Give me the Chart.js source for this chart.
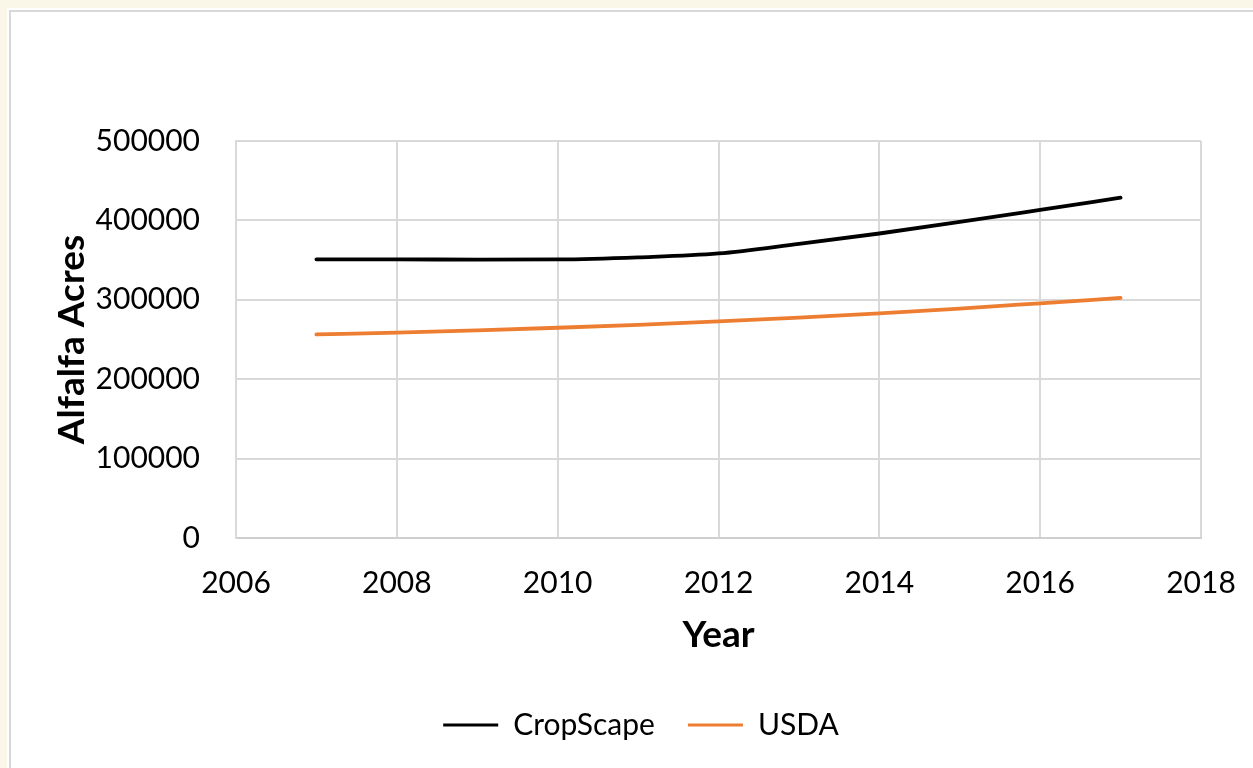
<!DOCTYPE html>
<html>
<head>
<meta charset="utf-8">
<script src="https://cdn.jsdelivr.net/npm/chart.js@4.4.1/dist/chart.umd.min.js"></script>
<style>
html,body{margin:0;padding:0;background:#fbf7e8;overflow:hidden}
canvas{display:block}
</style>
</head>
<body>
<canvas id="c" width="1253" height="768" style="width:1253px;height:768px"></canvas>
<script>
// ---- data ----
const years = [2007, 2008, 2009, 2010, 2011, 2012, 2013, 2014, 2015, 2016, 2017];
const cropScape = [351000, 351000, 350500, 350800, 353500, 358400, 370500, 383500, 398000, 413200, 428600];
const usda = [256500, 258600, 261500, 264800, 268500, 272800, 277500, 283000, 289000, 295600, 302300];
const seriesNames = ['CropScape', 'USDA'];
const xTickValues = [2006, 2008, 2010, 2012, 2014, 2016, 2018];
const yTickValues = [0, 100000, 200000, 300000, 400000, 500000];
const xTitle = 'Year';
const yTitle = 'Alfalfa Acres';

const FONT = 'Lato, "Open Sans", "Noto Sans", sans-serif';
const PAD_LEFT = 81;

const bgPlugin = {
  id: 'bg',
  beforeDraw(chart) {
    const ctx = chart.ctx;
    ctx.save();
    ctx.fillStyle = '#fbf7e8';
    ctx.fillRect(0, 0, chart.width, chart.height);
    ctx.fillStyle = '#ffffff';
    ctx.fillRect(7, 8, chart.width, chart.height);
    ctx.fillStyle = '#d8d8d8';
    ctx.fillRect(9, 10, chart.width, 2);
    ctx.fillRect(9, 10, 2, chart.height);
    ctx.restore();
  }
};

new Chart(document.getElementById('c'), {
  type: 'line',
  data: {
    datasets: [
      {
        label: seriesNames[0],
        data: years.map((y, i) => ({x: y, y: cropScape[i]})),
        borderColor: '#000000',
        backgroundColor: '#000000',
        borderWidth: 3.8,
        borderCapStyle: 'round',
        cubicInterpolationMode: 'monotone',
        pointRadius: 0,
        fill: false
      },
      {
        label: seriesNames[1],
        data: years.map((y, i) => ({x: y, y: usda[i]})),
        borderColor: '#ed7d31',
        backgroundColor: '#ed7d31',
        borderWidth: 3.8,
        borderCapStyle: 'round',
        cubicInterpolationMode: 'monotone',
        pointRadius: 0,
        fill: false
      }
    ]
  },
  options: {
    responsive: false,
    animation: false,
    devicePixelRatio: 1,
    layout: { padding: { left: PAD_LEFT, right: 52, top: 141, bottom: 18 } },
    plugins: {
      tooltip: { enabled: false },
      legend: {
        position: 'bottom',
        labels: {
          font: { family: FONT, size: 30 },
          color: '#000000',
          boxWidth: 55,
          boxHeight: 3,
          padding: 33,
          generateLabels: (chart) => chart.data.datasets.map((ds, i) => ({
            text: ds.label,
            fillStyle: ds.borderColor,
            strokeStyle: ds.borderColor,
            lineWidth: 0,
            hidden: false,
            datasetIndex: i,
            fontColor: '#000000'
          }))
        }
      }
    },
    scales: {
      x: {
        type: 'linear',
        min: xTickValues[0],
        max: xTickValues[xTickValues.length - 1],
        afterBuildTicks: (s) => { s.ticks = xTickValues.map(v => ({value: v})); },
        afterFit: (s) => { s.height = 139; s.paddingRight = 40; },
        ticks: {
          font: { family: FONT, size: 30 },
          color: '#000000',
          padding: 27,
          maxRotation: 0,
          autoSkip: false,
          callback: (v) => String(v)
        },
        grid: { color: '#d9d9d9', lineWidth: 2, drawTicks: false },
        border: { color: '#cfcfcf', width: 2 },
        title: {
          display: true,
          text: xTitle,
          font: { family: FONT, size: 37, weight: 'bold' },
          color: '#000000',
          padding: { top: 0, bottom: 20 }
        }
      },
      y: {
        type: 'linear',
        min: yTickValues[0],
        max: yTickValues[yTickValues.length - 1],
        afterBuildTicks: (s) => { s.ticks = yTickValues.map(v => ({value: v})); },
        afterFit: (s) => { s.width = 236 - PAD_LEFT; },
        ticks: {
          font: { family: FONT, size: 30 },
          color: '#000000',
          padding: 36,
          callback: (v) => String(v)
        },
        grid: { color: '#d9d9d9', lineWidth: 2, drawTicks: false },
        border: { color: '#d9d9d9', width: 2 },
        title: {
          display: true,
          text: yTitle,
          font: { family: FONT, size: 37, weight: 'bold' },
          color: '#000000',
          padding: { top: -31, bottom: 0 }
        }
      }
    }
  },
  plugins: [bgPlugin]
});
</script>
</body>
</html>
